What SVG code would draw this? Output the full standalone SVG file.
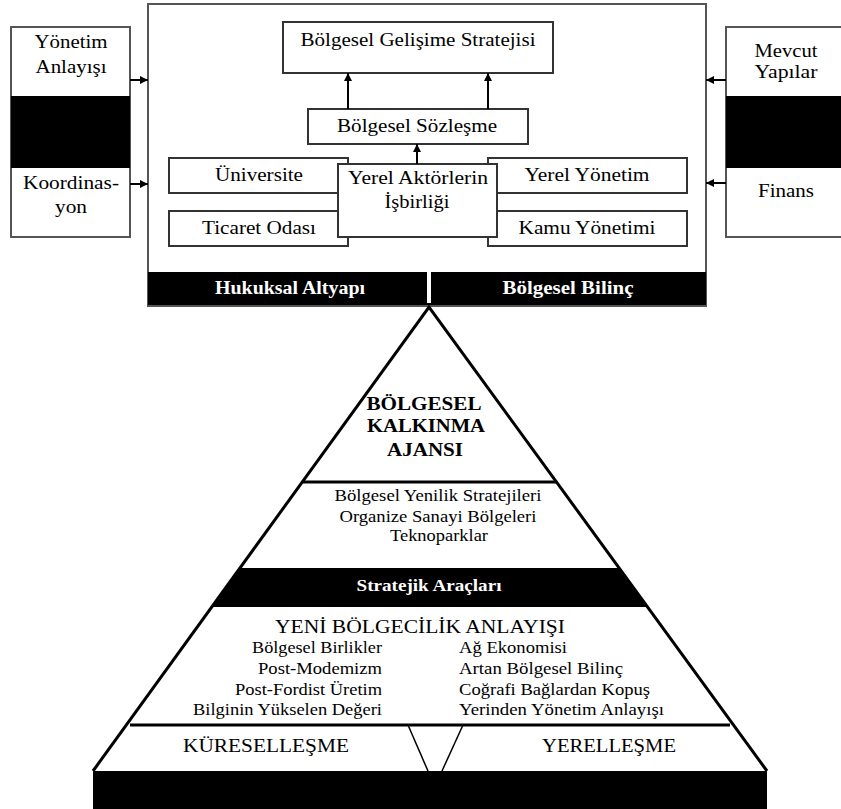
<svg xmlns="http://www.w3.org/2000/svg" width="841" height="809" viewBox="0 0 841 809" font-family="'Liberation Serif', 'Times New Roman', Times, serif">
<defs>
<style>
text{fill:#000;text-anchor:middle}
.t19{font-size:19px}
.t18{font-size:18px}
.t17{font-size:17px}
.wb{font-size:18px;font-weight:bold;fill:#fff}
.wb2{font-size:17px;font-weight:bold;fill:#fff}
.bb{font-size:19.5px;font-weight:bold}
.box{fill:#fff;stroke:#333;stroke-width:2}
.outer{fill:#fff;stroke:#555;stroke-width:2}
.blk{fill:#000}
.edge{stroke:#000;stroke-width:3;fill:none}
.thin{stroke:#000;stroke-width:1.5;fill:none}
.conn{stroke:#000;stroke-width:2;fill:none}
.r{text-anchor:end}
.l{text-anchor:start}
</style>
<marker id="ah" viewBox="0 0 10 10" refX="10" refY="5" markerWidth="4" markerHeight="4" orient="auto-start-reverse">
<path d="M0,0 L10,5 L0,10 z" fill="#000"/>
</marker>
</defs>

<g id="left-box">
<rect class="outer" x="11" y="27" width="119" height="210"/>
<rect class="blk" x="11" y="96" width="119" height="72"/>
<text class="t19" x="71" y="48" textLength="73" lengthAdjust="spacingAndGlyphs">Yönetim</text>
<text class="t19" x="71" y="73" textLength="71" lengthAdjust="spacingAndGlyphs">Anlayışı</text>
<text class="t19" x="71" y="189" textLength="96" lengthAdjust="spacingAndGlyphs">Koordinas-</text>
<text class="t19" x="71" y="213" textLength="32" lengthAdjust="spacingAndGlyphs">yon</text>
</g>

<g id="right-box">
<rect class="outer" x="726" y="27" width="120" height="210"/>
<rect class="blk" x="726" y="96" width="120" height="72"/>
<text class="t19" x="786" y="57" textLength="63" lengthAdjust="spacingAndGlyphs">Mevcut</text>
<text class="t19" x="786" y="78" textLength="63" lengthAdjust="spacingAndGlyphs">Yapılar</text>
<text class="t19" x="786" y="197" textLength="56" lengthAdjust="spacingAndGlyphs">Finans</text>
</g>

<g id="main-frame">
<rect class="outer" x="148" y="4" width="558" height="302"/>
<rect class="blk" x="148" y="272" width="558" height="33"/>
<rect x="427" y="272" width="4" height="31" fill="#fff"/>
<text class="wb" x="290" y="294" textLength="150" lengthAdjust="spacingAndGlyphs">Hukuksal Altyapı</text>
<text class="wb" x="568" y="294" textLength="131" lengthAdjust="spacingAndGlyphs">Bölgesel Bilinç</text>
</g>

<g id="strateji">
<rect class="box" x="283" y="22" width="270" height="51"/>
<text class="t19" x="418" y="46" textLength="235" lengthAdjust="spacingAndGlyphs">Bölgesel Gelişime Stratejisi</text>
</g>

<g id="sozlesme">
<rect class="box" x="308" y="109" width="220" height="35"/>
<text class="t19" x="417" y="132" textLength="160" lengthAdjust="spacingAndGlyphs">Bölgesel Sözleşme</text>
</g>

<g id="universite">
<rect class="box" x="169" y="158" width="179" height="35"/>
<text class="t19" x="259" y="181" textLength="88" lengthAdjust="spacingAndGlyphs">Üniversite</text>
</g>

<g id="ticaret">
<rect class="box" x="169" y="211" width="179" height="35"/>
<text class="t19" x="259" y="234" textLength="114" lengthAdjust="spacingAndGlyphs">Ticaret Odası</text>
</g>

<g id="yerel-yonetim">
<rect class="box" x="488" y="158" width="199" height="35"/>
<text class="t19" x="587" y="181" textLength="125" lengthAdjust="spacingAndGlyphs">Yerel Yönetim</text>
</g>

<g id="kamu">
<rect class="box" x="488" y="211" width="199" height="35"/>
<text class="t19" x="587" y="234" textLength="137" lengthAdjust="spacingAndGlyphs">Kamu Yönetimi</text>
</g>

<g id="yerel-aktorler">
<rect class="box" x="338" y="164" width="159" height="73"/>
<text class="t19" x="418" y="184" textLength="140" lengthAdjust="spacingAndGlyphs">Yerel Aktörlerin</text>
<text class="t19" x="417" y="208" textLength="65" lengthAdjust="spacingAndGlyphs">İşbirliği</text>
</g>

<g id="connectors">
<line class="conn" x1="130" y1="80" x2="148" y2="80" marker-end="url(#ah)"/>
<line class="conn" x1="130" y1="184" x2="148" y2="184" marker-end="url(#ah)"/>
<line class="conn" x1="726" y1="80" x2="706" y2="80" marker-end="url(#ah)"/>
<line class="conn" x1="726" y1="183" x2="706" y2="183" marker-end="url(#ah)"/>
<line class="conn" x1="348" y1="109" x2="348" y2="73" marker-end="url(#ah)"/>
<line class="conn" x1="488" y1="109" x2="488" y2="73" marker-end="url(#ah)"/>
<line class="conn" x1="417" y1="164" x2="417" y2="144" marker-end="url(#ah)"/>
</g>

<g id="pyramid">
<polygon points="429,307 93,771 767,771" fill="#fff" stroke="none"/>
<polygon class="blk" points="239.5,568 618.5,568 646.8,607 211.2,607"/>
<line class="edge" x1="302" y1="482" x2="556" y2="482"/>
<line class="edge" x1="130" y1="725" x2="730" y2="725"/>
<polyline class="edge" points="93,771 429,307 767,771"/>
<line class="thin" x1="408" y1="725" x2="428" y2="771"/>
<line class="thin" x1="463" y1="725" x2="442" y2="771"/>
<rect class="blk" x="93" y="771" width="674" height="38"/>

<text class="bb" x="424" y="410" textLength="115" lengthAdjust="spacingAndGlyphs">BÖLGESEL</text>
<text class="bb" x="426" y="432" textLength="118" lengthAdjust="spacingAndGlyphs">KALKINMA</text>
<text class="bb" x="425" y="456" textLength="76" lengthAdjust="spacingAndGlyphs">AJANSI</text>

<text class="t17" x="438" y="501" textLength="207" lengthAdjust="spacingAndGlyphs">Bölgesel Yenilik Stratejileri</text>
<text class="t17" x="438" y="522" textLength="197" lengthAdjust="spacingAndGlyphs">Organize Sanayi Bölgeleri</text>
<text class="t17" x="439" y="541" textLength="98" lengthAdjust="spacingAndGlyphs">Teknoparklar</text>

<text class="wb2" x="429" y="591" textLength="145" lengthAdjust="spacingAndGlyphs">Stratejik Araçları</text>

<text class="t18" x="420" y="633" textLength="290" lengthAdjust="spacingAndGlyphs">YENİ BÖLGECİLİK ANLAYIŞI</text>
<text class="t17 r" x="382" y="653" textLength="130" lengthAdjust="spacingAndGlyphs">Bölgesel Birlikler</text>
<text class="t17 r" x="382" y="674" textLength="124" lengthAdjust="spacingAndGlyphs">Post-Modemizm</text>
<text class="t17 r" x="382" y="695" textLength="147" lengthAdjust="spacingAndGlyphs">Post-Fordist Üretim</text>
<text class="t17 r" x="382" y="715" textLength="189" lengthAdjust="spacingAndGlyphs">Bilginin Yükselen Değeri</text>
<text class="t17 l" x="459" y="653" textLength="108" lengthAdjust="spacingAndGlyphs">Ağ Ekonomisi</text>
<text class="t17 l" x="459" y="674" textLength="164" lengthAdjust="spacingAndGlyphs">Artan Bölgesel Bilinç</text>
<text class="t17 l" x="459" y="695" textLength="191" lengthAdjust="spacingAndGlyphs">Coğrafi Bağlardan Kopuş</text>
<text class="t17 l" x="459" y="715" textLength="205" lengthAdjust="spacingAndGlyphs">Yerinden Yönetim Anlayışı</text>

<text class="t18" x="266" y="752" textLength="166" lengthAdjust="spacingAndGlyphs">KÜRESELLEŞME</text>
<text class="t18" x="609" y="752" textLength="134" lengthAdjust="spacingAndGlyphs">YERELLEŞME</text>
</g>
</svg>
